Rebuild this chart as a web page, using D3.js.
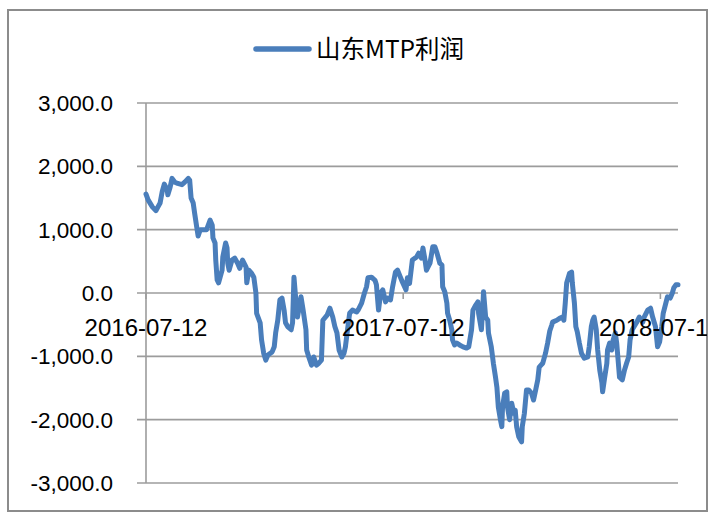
<!DOCTYPE html>
<html lang="zh">

<head>
    <meta charset="UTF-8">
    <title>山东MTP利润</title>
    <script src="https://d3js.org/d3.v7.min.js"></script>
    <style>
        body {
            margin: 0;
            background-color: white;
        }

        #chart text {
            font-family: "Liberation Sans", Arial, sans-serif;
            fill: black;
        }

        #chart .legend-text {
            font-family: "Noto Sans CJK SC", sans-serif;
        }
    </style>
</head>

<body>
    <svg id="chart" width="720" height="516"></svg>
    <script>
        // 数据
        const dates = [
            '2016-07-12', '2016-07-15', '2016-07-21', '2016-07-26', '2016-07-29', '2016-08-01', '2016-08-04', '2016-08-07',
            '2016-08-11', '2016-08-12', '2016-08-15', '2016-08-18', '2016-08-22', '2016-08-26', '2016-09-01', '2016-09-05',
            '2016-09-10', '2016-09-12', '2016-09-14', '2016-09-17', '2016-09-19', '2016-09-22', '2016-09-24', '2016-09-27',
            '2016-10-01', '2016-10-06', '2016-10-11', '2016-10-14', '2016-10-15', '2016-10-18', '2016-10-19', '2016-10-21',
            '2016-10-23', '2016-10-28', '2016-10-29', '2016-11-02', '2016-11-04', '2016-11-05', '2016-11-07', '2016-11-11',
            '2016-11-15', '2016-11-19', '2016-11-22', '2016-11-25', '2016-11-26', '2016-12-01', '2016-12-02', '2016-12-05',
            '2016-12-09', '2016-12-12', '2016-12-15', '2016-12-16', '2016-12-21', '2016-12-23', '2016-12-26', '2016-12-29',
            '2017-01-01', '2017-01-07', '2017-01-10', '2017-01-12', '2017-01-15', '2017-01-18', '2017-01-21', '2017-01-24',
            '2017-01-26', '2017-01-29', '2017-02-03', '2017-02-05', '2017-02-07', '2017-02-10', '2017-02-12', '2017-02-17',
            '2017-02-20', '2017-02-24', '2017-02-25', '2017-02-28', '2017-03-04', '2017-03-07', '2017-03-11', '2017-03-14',
            '2017-03-18', '2017-03-20', '2017-03-26', '2017-03-30', '2017-04-03', '2017-04-06', '2017-04-09', '2017-04-12',
            '2017-04-16', '2017-04-19', '2017-04-21', '2017-04-24', '2017-04-27', '2017-05-01', '2017-05-07', '2017-05-09',
            '2017-05-14', '2017-05-18', '2017-05-21', '2017-05-23', '2017-05-28', '2017-06-02', '2017-06-04', '2017-06-07',
            '2017-06-10', '2017-06-13', '2017-06-17', '2017-06-20', '2017-06-24', '2017-06-27', '2017-07-01', '2017-07-04',
            '2017-07-08', '2017-07-11', '2017-07-16', '2017-07-18', '2017-07-21', '2017-07-25', '2017-07-31', '2017-08-03',
            '2017-08-07', '2017-08-09', '2017-08-12', '2017-08-14', '2017-08-19', '2017-08-23', '2017-08-26', '2017-08-29',
            '2017-09-02', '2017-09-05', '2017-09-06', '2017-09-09', '2017-09-12', '2017-09-13', '2017-09-16', '2017-09-19',
            '2017-09-20', '2017-09-23', '2017-09-26', '2017-09-30', '2017-10-05', '2017-10-10', '2017-10-13', '2017-10-17',
            '2017-10-19', '2017-10-23', '2017-10-26', '2017-10-27', '2017-10-31', '2017-11-02', '2017-11-03', '2017-11-06',
            '2017-11-09', '2017-11-10', '2017-11-14', '2017-11-17', '2017-11-20', '2017-11-22', '2017-11-24', '2017-11-27',
            '2017-11-29', '2017-11-30', '2017-12-03', '2017-12-06', '2017-12-07', '2017-12-10', '2017-12-13', '2017-12-16',
            '2017-12-18', '2017-12-20', '2017-12-23', '2017-12-27', '2017-12-28', '2017-12-31', '2018-01-03', '2018-01-06',
            '2018-01-10', '2018-01-13', '2018-01-16', '2018-01-19', '2018-01-21', '2018-01-26', '2018-01-30', '2018-02-02',
            '2018-02-05', '2018-02-08', '2018-02-09', '2018-02-15', '2018-02-19', '2018-02-23', '2018-02-25', '2018-02-27',
            '2018-03-01', '2018-03-05', '2018-03-08', '2018-03-09', '2018-03-12', '2018-03-14', '2018-03-16', '2018-03-19',
            '2018-03-22', '2018-03-26', '2018-03-31', '2018-04-02', '2018-04-05', '2018-04-07', '2018-04-09', '2018-04-12',
            '2018-04-14', '2018-04-17', '2018-04-20', '2018-04-21', '2018-04-24', '2018-04-27', '2018-04-28', '2018-05-01',
            '2018-05-04', '2018-05-06', '2018-05-09', '2018-05-11', '2018-05-13', '2018-05-15', '2018-05-19', '2018-05-22',
            '2018-05-25', '2018-05-28', '2018-05-30', '2018-06-02', '2018-06-08', '2018-06-12', '2018-06-17', '2018-06-19',
            '2018-06-24', '2018-06-28', '2018-07-01', '2018-07-05', '2018-07-08', '2018-07-11', '2018-07-14', '2018-07-16',
            '2018-07-19', '2018-07-22', '2018-07-26', '2018-07-29', '2018-07-31', '2018-08-03', '2018-08-06'
        ];

        const profit = [
            1560, 1470, 1360, 1300, 1360, 1420, 1600, 1720,
            1630, 1550, 1660, 1810, 1750, 1730, 1710, 1750,
            1810, 1780, 1500, 1420, 1260, 1040, 900, 1000,
            1000, 1000, 1150, 1070, 870, 790, 520, 205,
            160, 360, 570, 790, 710, 470, 360, 520,
            550, 470, 390, 490, 520, 410, 160, 360,
            310, 250, 0, -320, -470, -740, -950, -1060,
            -980, -930, -850, -630, -430, -110, -80, -270,
            -470, -530, -580, -470, 250, -160, -380, -60,
            -270, -580, -900, -1010, -1140, -1010, -1140, -1110,
            -1060, -430, -350, -240, -380, -530, -630, -900,
            -1010, -950, -850, -580, -320, -270, -300, -270,
            -160, 0, 100, 240, 250, 200, 130, -270,
            0, 50, -140, -80, -110, 100, 330, 360,
            250, 170, 50, 240, 150, 520, 570, 630,
            550, 710, 520, 360, 470, 730, 730, 630,
            470, 440, 100, 20, -160, -320, -430, -580,
            -740, -820, -790, -820, -850, -870, -850, -580,
            -270, -190, -140, -320, -580, -220, 20, -380,
            -430, -630, -850, -1110, -1330, -1490, -1800, -2000,
            -2110, -1800, -1580, -1560, -1800, -2000, -1740, -1900,
            -1850, -2110, -2270, -2350, -2110, -1900, -1530, -1530,
            -1580, -1690, -1530, -1370, -1170, -1110, -950, -790,
            -600, -500, -460, -430, -400, -380, -430, -160,
            160, 310, 330, 160, -160, -530, -610, -790,
            -950, -1030, -1010, -850, -530, -430, -380, -580,
            -900, -1220, -1420, -1560, -1330, -1110, -900, -790,
            -900, -740, -630, -790, -1060, -1330, -1370, -1220,
            -1110, -1010, -740, -580, -470, -380, -460, -380,
            -270, -240, -380, -530, -850, -770, -530, -320,
            -190, -60, -80, 0, 80, 130, 130
        ];

        const xTickLabels = ['2016-07-12', '2017-07-12', '2018-07-12'];
        const yTicks = [-3000, -2000, -1000, 0, 1000, 2000, 3000];
        const seriesName = '山东MTP利润';

        const parseDate = d3.timeParse('%Y-%m-%d');
        const data = dates.map((d, i) => ({ date: parseDate(d), value: profit[i] }));

        const fmt = d3.formatLocale({
            decimal: '.', thousands: ',', grouping: [3], currency: ['', ''], minus: '-'
        }).format(',.1f');

        const svg = d3.select('#chart');
        const gridColor = '#9c9c9c';
        const lineColor = '#4a7ebb';

        const x = d3.scaleTime()
            .domain([parseDate('2016-07-12'), parseDate('2018-08-06')])
            .range([146, 678]);

        const y = d3.scaleLinear()
            .domain([-3000, 3000])
            .range([483, 103]);

        // 外框
        svg.append('defs').append('clipPath')
            .attr('id', 'frame-clip')
            .append('rect')
            .attr('x', 8)
            .attr('y', 10)
            .attr('width', 699)
            .attr('height', 501);

        svg.append('rect')
            .attr('x', 8)
            .attr('y', 10)
            .attr('width', 699)
            .attr('height', 501)
            .attr('fill', 'white')
            .attr('stroke', '#8c8c8c')
            .attr('stroke-width', 2);

        // 网格线
        svg.selectAll('.grid')
            .data(yTicks)
            .enter()
            .append('line')
            .attr('class', 'grid')
            .attr('x1', 137)
            .attr('x2', 678)
            .attr('y1', d => y(d))
            .attr('y2', d => y(d))
            .attr('stroke', gridColor)
            .attr('stroke-width', 1.6);

        // 纵轴
        svg.append('line')
            .attr('x1', x.range()[0])
            .attr('x2', x.range()[0])
            .attr('y1', y(3000))
            .attr('y2', y(-3000))
            .attr('stroke', gridColor)
            .attr('stroke-width', 1.6);

        svg.selectAll('.ylabel')
            .data(yTicks)
            .enter()
            .append('text')
            .attr('class', 'ylabel')
            .attr('x', 113)
            .attr('y', d => y(d))
            .attr('dy', '0.36em')
            .attr('text-anchor', 'end')
            .style('font-size', '22.5px')
            .text(d => fmt(d));

        // 横轴刻度
        svg.selectAll('.xtick')
            .data(xTickLabels)
            .enter()
            .append('line')
            .attr('class', 'xtick')
            .attr('x1', d => x(parseDate(d)))
            .attr('x2', d => x(parseDate(d)))
            .attr('y1', y(0))
            .attr('y2', y(0) + 6)
            .attr('stroke', gridColor)
            .attr('stroke-width', 1.6);

        // 折线
        const line = d3.line()
            .x(d => x(d.date))
            .y(d => y(d.value));

        svg.append('path')
            .datum(data)
            .attr('d', line)
            .attr('fill', 'none')
            .attr('stroke', lineColor)
            .attr('stroke-width', 5)
            .attr('stroke-linejoin', 'round')
            .attr('stroke-linecap', 'round');

        // 横轴标签 (裁剪到外框)
        svg.append('g')
            .attr('clip-path', 'url(#frame-clip)')
            .selectAll('text')
            .data(xTickLabels)
            .enter()
            .append('text')
            .attr('x', d => x(parseDate(d)))
            .attr('y', 336)
            .attr('text-anchor', 'middle')
            .style('font-size', '24px')
            .text(d => d);

        // 图例
        svg.append('line')
            .attr('x1', 256)
            .attr('x2', 309)
            .attr('y1', 49)
            .attr('y2', 49)
            .attr('stroke', lineColor)
            .attr('stroke-width', 5.5)
            .attr('stroke-linecap', 'round');

        svg.append('text')
            .attr('class', 'legend-text')
            .attr('x', 316)
            .attr('y', 49)
            .attr('dy', '0.35em')
            .style('font-size', '24.5px')
            .text(seriesName);
    </script>
</body>

</html>
